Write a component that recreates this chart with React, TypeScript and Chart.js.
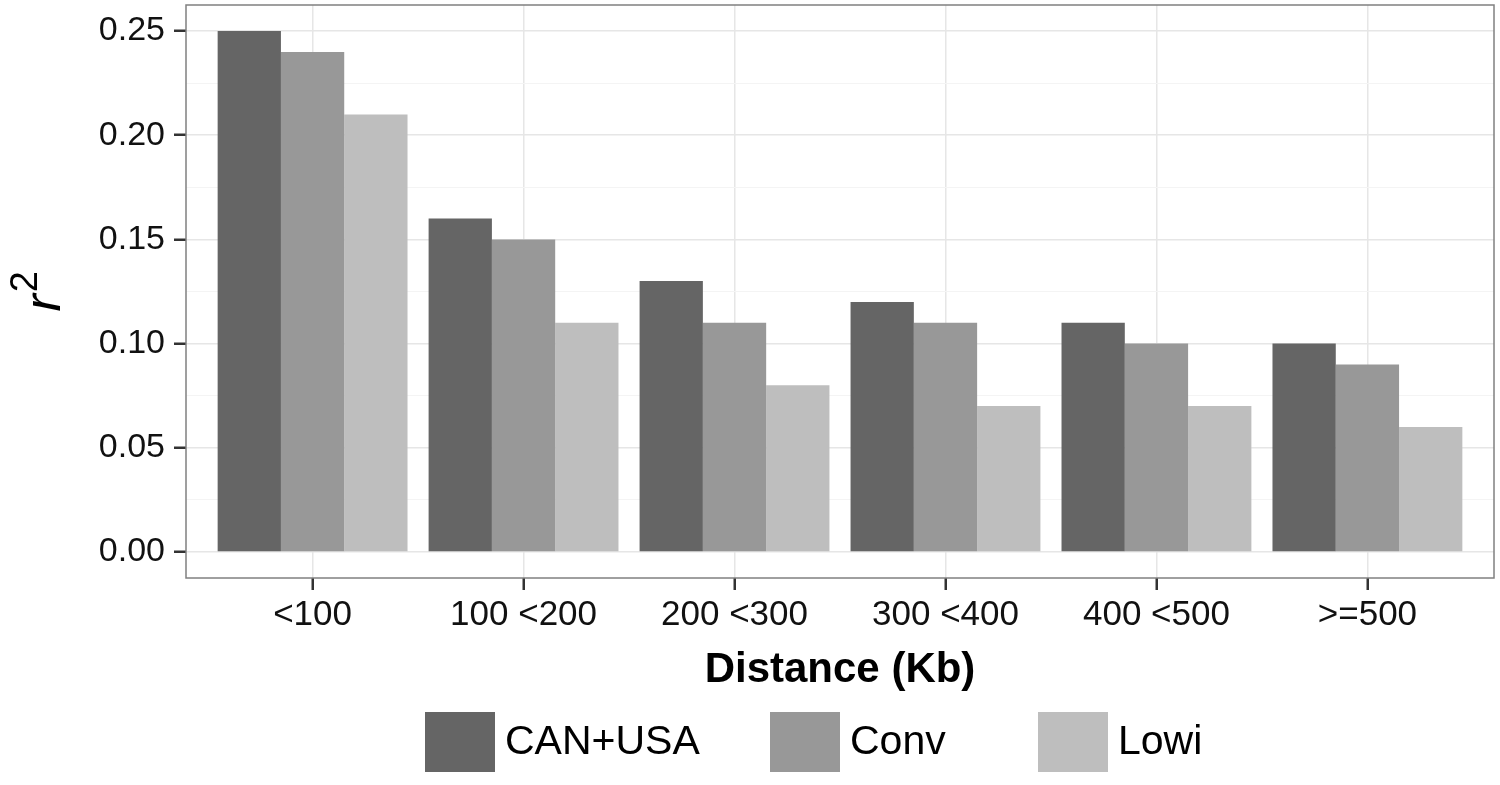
import { useEffect, useRef } from "react";
import { Chart, registerables } from "chart.js";

Chart.register(...registerables);

// distance classes on the x axis
const categories = ["<100", "100 <200", "200 <300", "300 <400", "400 <500", ">=500"];
const seriesNames = ["CAN+USA", "Conv", "Lowi"];
const canUsaValues = [0.25, 0.16, 0.13, 0.12, 0.11, 0.1];
const convValues = [0.24, 0.15, 0.11, 0.11, 0.1, 0.09];
const lowiValues = [0.21, 0.11, 0.08, 0.07, 0.07, 0.06];
const seriesColors = ["#656565", "#989898", "#bebebe"];

const yTicks = [0, 0.025, 0.05, 0.075, 0.1, 0.125, 0.15, 0.175, 0.2, 0.225, 0.25];
const yMajorTicks = [0, 0.05, 0.1, 0.15, 0.2, 0.25];

const FONT = "'Liberation Sans', Arial, Helvetica, sans-serif";
const legendKeyLeft = [425, 770, 1038];

const isMajor = (v: number) => yMajorTicks.some((m) => Math.abs(m - v) < 1e-9);

const panelBorder = {
    id: "panelBorder",
    afterDraw(chart: Chart) {
        const { ctx, chartArea } = chart;
        ctx.save();
        ctx.strokeStyle = "#808080";
        ctx.lineWidth = 1.5;
        ctx.strokeRect(chartArea.left, chartArea.top, chartArea.right - chartArea.left, chartArea.bottom - chartArea.top);
        ctx.restore();
    },
};

const yTitle = {
    id: "yTitle",
    afterDraw(chart: Chart) {
        const { ctx, chartArea } = chart;
        const cy = (chartArea.top + chartArea.bottom) / 2;
        ctx.save();
        ctx.translate(60, cy + 20);
        ctx.rotate(-Math.PI / 2);
        ctx.fillStyle = "#000";
        ctx.textAlign = "left";
        ctx.textBaseline = "alphabetic";
        ctx.font = `italic 52px ${FONT}`;
        ctx.fillText("r", 0, 0);
        const w = ctx.measureText("r").width;
        ctx.font = `38px ${FONT}`;
        ctx.fillText("2", w + 2, -23);
        ctx.restore();
    },
};

const bottomLegend = {
    id: "bottomLegend",
    afterDraw(chart: Chart) {
        const { ctx } = chart;
        ctx.save();
        chart.data.datasets.forEach((ds, i) => {
            const x = legendKeyLeft[i];
            ctx.fillStyle = ds.backgroundColor as string;
            ctx.fillRect(x, 712, 70, 60);
            ctx.fillStyle = "#000";
            ctx.font = `41px ${FONT}`;
            ctx.textAlign = "left";
            ctx.textBaseline = "middle";
            ctx.fillText(ds.label as string, x + 80, 743);
        });
        ctx.restore();
    },
};

export default function App() {
    const canvasRef = useRef<HTMLCanvasElement | null>(null);
    const chartRef = useRef<Chart | null>(null);

    useEffect(() => {
        if (!canvasRef.current) return;
        if (chartRef.current) { chartRef.current.destroy(); }

        const values = [canUsaValues, convValues, lowiValues];

        chartRef.current = new Chart(canvasRef.current, {
            type: "bar",
            data: {
                datasets: seriesNames.map((name, s) => ({
                    label: name,
                    data: values[s].map((v, i) => ({ x: i, y: v })),
                    backgroundColor: seriesColors[s],
                    borderWidth: 0,
                    categoryPercentage: 0.9,
                    barPercentage: 1.0,
                })),
            },
            options: {
                animation: false,
                responsive: true,
                maintainAspectRatio: false,
                layout: { padding: { top: 5, right: 6, left: 0, bottom: 85 } },
                plugins: {
                    legend: { display: false },
                    tooltip: { enabled: false },
                },
                scales: {
                    x: {
                        type: "linear",
                        min: -0.6,
                        max: 5.6,
                        offset: false,
                        afterBuildTicks: (scale: any) => {
                            scale.ticks = categories.map((_, i) => ({ value: i }));
                        },
                        afterFit: (scale: any) => {
                            scale.height = 122;
                            scale.paddingLeft = 0;
                            scale.paddingRight = 0;
                        },
                        ticks: {
                            autoSkip: false,
                            maxRotation: 0,
                            padding: 4,
                            color: "#111",
                            font: { family: FONT, size: 35 },
                            callback: (v: any) => categories[Number(v)] ?? "",
                        },
                        grid: {
                            offset: false,
                            color: "#e6e6e6",
                            lineWidth: 1.5,
                            tickColor: "#333",
                            tickLength: 12,
                            tickWidth: 2.5,
                        },
                        border: { display: false },
                        title: {
                            display: true,
                            text: "Distance (Kb)",
                            color: "#000",
                            font: { family: FONT, size: 42, weight: "bold" },
                            padding: { top: 4, bottom: 4 },
                        },
                    },
                    y: {
                        min: -0.0125,
                        max: 0.2625,
                        afterBuildTicks: (scale: any) => {
                            scale.ticks = yTicks.map((v) => ({ value: v }));
                        },
                        afterFit: (scale: any) => {
                            scale.width = 186;
                            scale.paddingTop = 0;
                            scale.paddingBottom = 0;
                        },
                        ticks: {
                            autoSkip: false,
                            padding: 9,
                            color: "#111",
                            font: { family: FONT, size: 34 },
                            callback: (v: any) => (isMajor(Number(v)) ? Number(v).toFixed(2) : ""),
                        },
                        grid: {
                            color: (ctx: any) => (isMajor(ctx.tick.value) ? "#e6e6e6" : "#f4f4f4"),
                            lineWidth: (ctx: any) => (isMajor(ctx.tick.value) ? 1.5 : 1),
                            tickColor: (ctx: any) => (isMajor(ctx.tick.value) ? "#333" : "rgba(0,0,0,0)"),
                            tickLength: 12,
                            tickWidth: 2.5,
                        },
                        border: { display: false },
                    },
                },
            },
            plugins: [panelBorder, yTitle, bottomLegend],
        });

        return () => {
            if (chartRef.current) {
                chartRef.current.destroy();
                chartRef.current = null;
            }
        };
    }, []);

    return (
        <div style={{ position: "absolute", left: 0, top: 0, width: 1500, height: 785, background: "#fff" }}>
            <canvas ref={canvasRef} />
        </div>
    );
}
